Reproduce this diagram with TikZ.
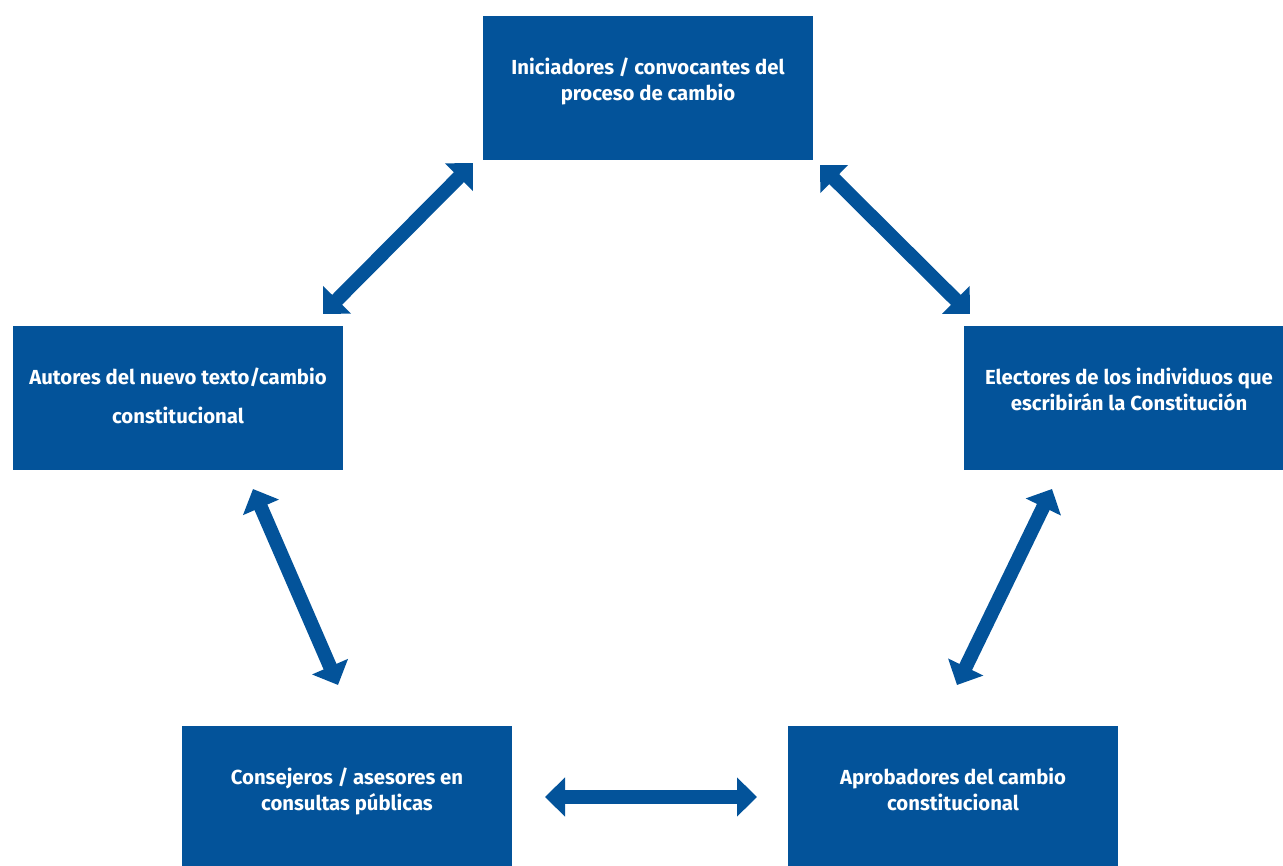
\documentclass[tikz,border=0pt]{standalone}
\usepackage{fontspec}
\setmainfont{Fira Sans}
\usetikzlibrary{arrows.meta}
\definecolor{cblue}{HTML}{03539A}

\begin{document}
\begin{tikzpicture}[x=0.6pt, y=-0.6pt,
    actor/.style={fill=cblue, text=white, font=\bfseries\fontsize{12.2}{15.6}\selectfont,
      align=center, minimum width=198pt, minimum height=86.4pt, inner sep=0pt,
      text depth=10pt},
    link/.style={cblue, line width=8.4pt,
      {Triangle[width=22.8pt,length=12pt]}-{Triangle[width=22.8pt,length=12pt]}}]
    \useasboundingbox (0,0) rectangle (1283,866);
    % boxes
    \node[actor] (ini) at (648,88) {Iniciadores / convocantes del\\proceso de cambio};
    \node[actor, text depth=3pt] (aut) at (178,398) {Autores del nuevo texto/cambio\\[8pt]constitucional};
    \node[actor] (ele) at (1129,398) {Electores de los individuos que\\escribirán la Constitución};
    \node[actor] (con) at (347,798) {Consejeros / asesores en\\consultas públicas};
    \node[actor] (apr) at (953,798) {Aprobadores del cambio\\constitucional};
    % arrow ends
    \coordinate (aut-ini) at (323,314);
    \coordinate (ini-aut) at (473,163);
    \coordinate (ini-ele) at (820,165);
    \coordinate (ele-ini) at (970,314);
    \coordinate (aut-con) at (253,489);
    \coordinate (con-aut) at (338,685);
    \coordinate (ele-apr) at (1052,489);
    \coordinate (apr-ele) at (957,685);
    \coordinate (con-apr) at (545,797);
    \coordinate (apr-con) at (757,797);
    \draw[link] (aut-ini) -- (ini-aut);
    \draw[link] (ini-ele) -- (ele-ini);
    \draw[link] (aut-con) -- (con-aut);
    \draw[link] (ele-apr) -- (apr-ele);
    \draw[link] (con-apr) -- (apr-con);
\end{tikzpicture}
\end{document}
